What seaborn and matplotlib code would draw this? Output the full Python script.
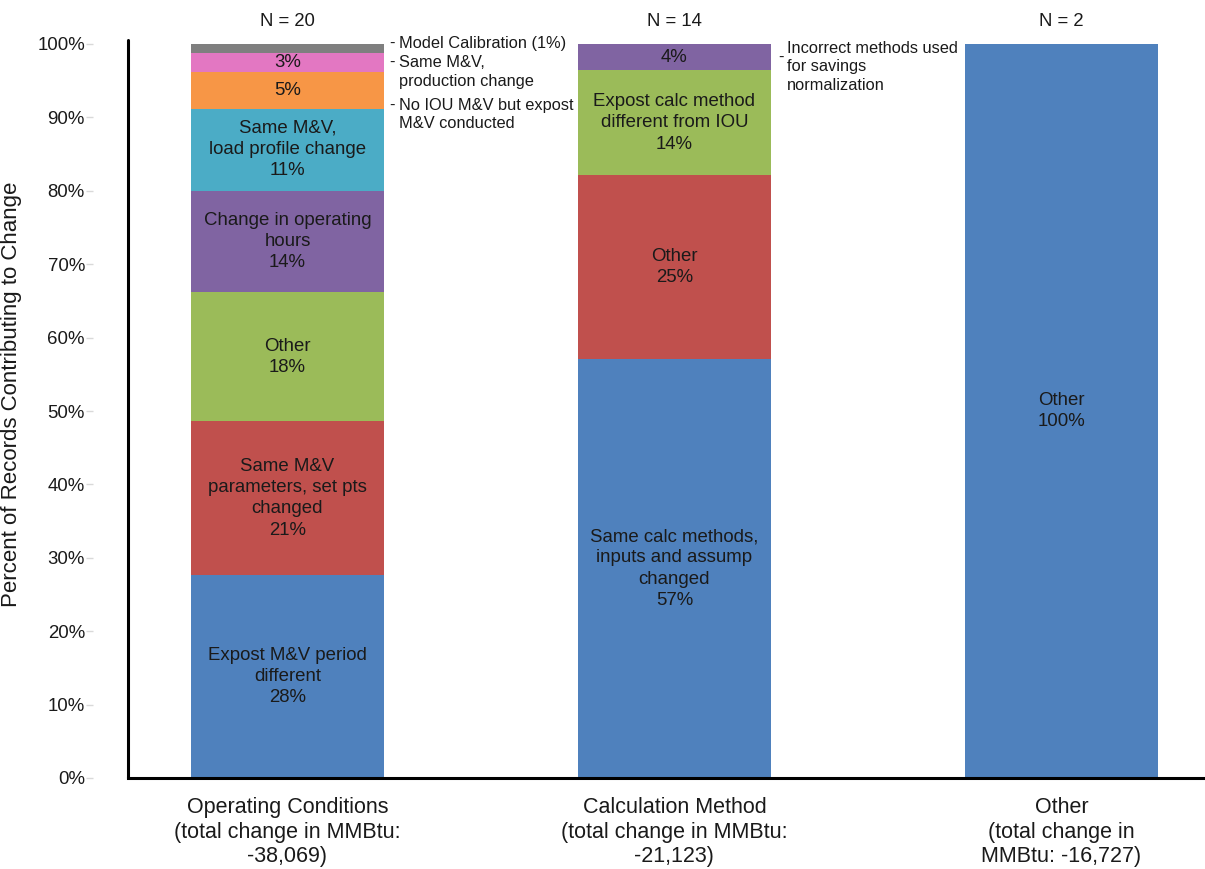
import numpy as np
import pandas as pd
import matplotlib
matplotlib.use("Agg")
import matplotlib.pyplot as plt
import seaborn as sns

sns.set_theme(style="white")
plt.rcParams["font.family"] = ["Liberation Sans", "DejaVu Sans"]

# Categories (x axis) and record counts
categories = ["Operating Conditions\n(total change in MMBtu:\n-38,069)",
              "Calculation Method\n(total change in MMBtu:\n-21,123)",
              "Other\n(total change in\nMMBtu: -16,727)"]
record_counts = [20, 14, 2]

# Reasons for change, stacked bottom to top within each category
op_reasons = ["Expost M&V period\ndifferent",
              "Same M&V\nparameters, set pts\nchanged",
              "Other",
              "Change in operating\nhours",
              "Same M&V,\nload profile change",
              "No IOU M&V but expost\nM&V conducted",
              "Same M&V,\nproduction change",
              "Model Calibration"]
op_values = [27.6, 21.0, 17.6, 13.8, 11.2, 5.0, 2.6, 1.2]

calc_reasons = ["Same calc methods,\ninputs and assump\nchanged",
                "Other",
                "Expost calc method\ndifferent from IOU",
                "Incorrect methods used\nfor savings\nnormalization"]
calc_values = [57.1, 25.0, 14.3, 3.6]

other_reasons = ["Other"]
other_values = [100.0]

blue, red, green, purple = "#4F81BD", "#C0504D", "#9BBB59", "#8064A2"
aqua, orange, pink, grey = "#4BACC6", "#F79646", "#E377C2", "#7F7F7F"
op_colors = [blue, red, green, purple, aqua, orange, pink, grey]
calc_colors = [blue, red, green, purple]
other_colors = [blue]

rows = []
for cat, reasons, vals, cols in [(categories[0], op_reasons, op_values, op_colors),
                                 (categories[1], calc_reasons, calc_values, calc_colors),
                                 (categories[2], other_reasons, other_values, other_colors)]:
    bottom = 0.0
    for r, v, c in zip(reasons, vals, cols):
        rows.append(dict(category=cat, reason=r, value=v, bottom=bottom, color=c))
        bottom += v
df = pd.DataFrame(rows)

W, H = 1205, 869
fig = plt.figure(figsize=(W / 100, H / 100), dpi=100)
ax = fig.add_axes([128 / W, (H - 778) / H, 1 - 128 / W, (778 - 44) / H])

bar_width = 0.5
for _, r in df.iterrows():
    sns.barplot(x=[r["category"]], y=[r["value"]], bottom=[r["bottom"]],
                order=categories, color=r["color"], saturation=1,
                width=bar_width, errorbar=None, ax=ax, zorder=2,
                linewidth=0, edgecolor="none")

ink = "#1a1a1a"
txt_kw = dict(ha="center", va="center", fontsize=13.4, color=ink,
              linespacing=1.33)

# labels inside the segments
outside = {"Model Calibration", "Same M&V,\nproduction change",
           "No IOU M&V but expost\nM&V conducted",
           "Incorrect methods used\nfor savings\nnormalization"}
for _, r in df.iterrows():
    xi = categories.index(r["category"])
    yc = r["bottom"] + r["value"] / 2
    pct = f"{r['value']:.0f}%"
    if r["reason"] == "Model Calibration":
        continue
    label = pct if r["reason"] in outside else f"{r['reason']}\n{pct}"
    ax.text(xi, yc, label, **txt_kw)

# callouts for the thin segments
side_kw = dict(ha="left", va="center", fontsize=11.8, color=ink,
               linespacing=1.28, clip_on=False)
x_dash0 = 0.25 + 0.012
x_txt0 = x_dash0 + 0.026
ax.text(x_dash0, 100.1, "-", **side_kw)
ax.text(x_txt0, 100.1, f"{op_reasons[7]} ({op_values[7]:.0f}%)", **side_kw)
ax.text(x_dash0, 97.5, "-", **side_kw)
ax.text(x_txt0, 96.2, op_reasons[6], **side_kw)
ax.text(x_dash0, 91.6, "-", **side_kw)
ax.text(x_txt0, 90.4, op_reasons[5], **side_kw)
x_dash1 = 1.25 + 0.017
x_txt1 = x_dash1 + 0.024
ax.text(x_dash1, 98.2, "-", **side_kw)
ax.text(x_txt1, 96.9, calc_reasons[3], **side_kw)

# record counts above the bars
for i, n in enumerate(record_counts):
    ax.text(i, 103.0, f"N = {n}", ha="center", va="center", fontsize=13.3,
            color=ink, clip_on=False)

ax.set_xlim(-0.412, 2.371)
ax.set_ylim(0, 100)
ax.set_yticks(np.arange(0, 101, 10))
ax.set_yticklabels([f"{t}%" for t in range(0, 101, 10)])
ax.set_xlabel("")
ax.set_ylabel("Percent of Records Contributing to Change", fontsize=16,
              color=ink)
ax.yaxis.set_label_coords(-0.098, 0.523)

# y ticks sit away from the axis line
ax.spines["left"].set_position(("outward", 25))
ax.spines["left"].set_visible(False)
ax.spines["top"].set_visible(False)
ax.spines["right"].set_visible(False)
ax.spines["bottom"].set_color("black")
ax.spines["bottom"].set_linewidth(2.2)
ax.axvline(-0.412, ymin=0, ymax=1.005, color="black", lw=2.2, clip_on=False, zorder=3)

ax.tick_params(axis="y", which="major", left=True, length=5, width=1,
               color="#d9d9d9", labelsize=13.4, labelcolor=ink, pad=1)
ax.tick_params(axis="x", length=0, labelsize=15.5, labelcolor=ink, pad=14)
ax.grid(False)

fig.savefig("out.png", dpi=100)
